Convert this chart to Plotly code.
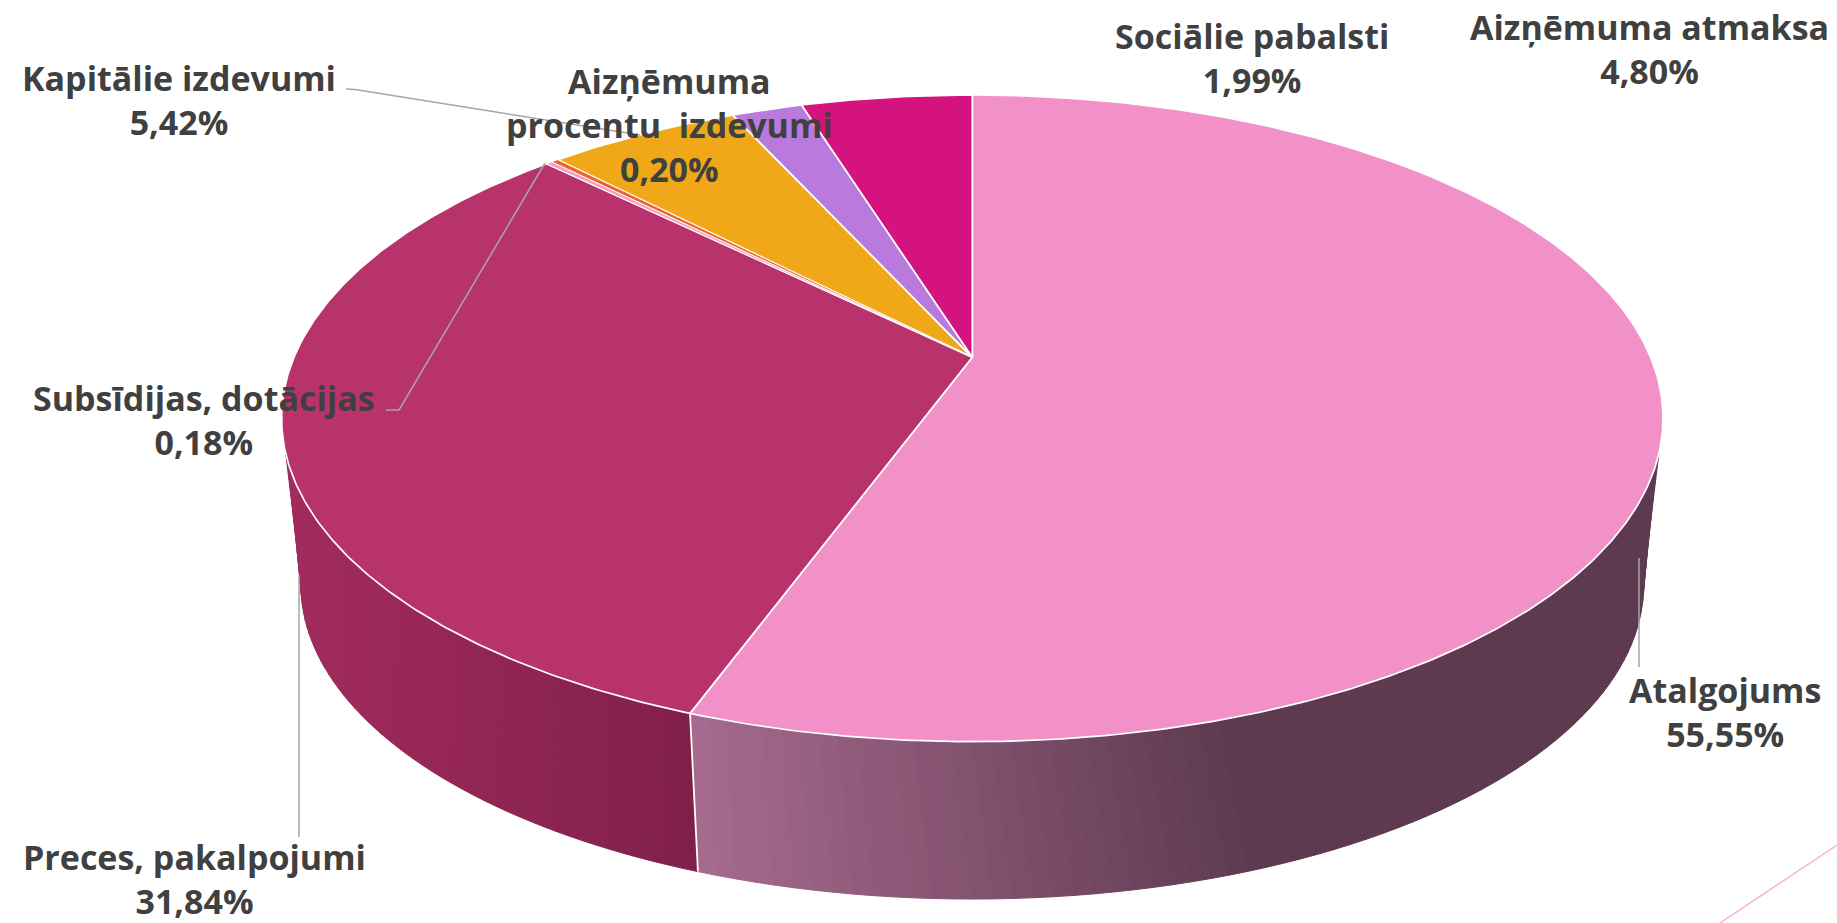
import numpy as np
import plotly.graph_objects as go

# ---- data ----
categories = ["Atalgojums", "Preces, pakalpojumi", "Subsīdijas, dotācijas",
              "Aizņēmuma<br>procentu  izdevumi", "Kapitālie izdevumi",
              "Sociālie pabalsti", "Aizņēmuma atmaksa"]
values = [55.55, 31.84, 0.18, 0.20, 5.42, 1.99, 4.80]
colors = ["#F291C8", "#B8336C", "#F4A0C0", "#EE6430", "#F0A818", "#B87ADC", "#D4137F"]

# ---- geometry of the perspective disc ----
W, H = 1837, 923
CX, TOP_Y, BOT_Y = 972.3, 357.3, 525.5
A, B, K, S = 678.3, 311.8, 0.1887, 0.972
FS = 34
TXT = "#404040"

def project(deg, scale=1.0, apex=TOP_Y):
    t = np.radians(deg)
    w = 1 + K * np.cos(t)
    return CX + scale * A * np.sin(t) / w, apex - scale * B * np.cos(t) / w

def lerp_color(x, xs, c0, c1):
    f = np.clip((x - xs[0]) / (xs[1] - xs[0]), 0, 1)
    a = [int(c0[i:i+2], 16) for i in (1, 3, 5)]
    b = [int(c1[i:i+2], 16) for i in (1, 3, 5)]
    return "rgb(%d,%d,%d)" % tuple(round(p + (q - p) * f) for p, q in zip(a, b))

total = sum(values)
edges = np.concatenate([[0], np.cumsum(values)]) / total * 360
fig = go.Figure()

def side(top0, top1, bot0, bot1, xs, c0, c1, n=70):
    tt = np.linspace(top0, top1, n + 1)
    bb = np.linspace(bot0, bot1, n + 1)
    for i in range(n):
        xa, ya = project(tt[i])
        xb, yb = project(tt[i + 1])
        xc, yc = project(bb[i + 1], S, BOT_Y)
        xd, yd = project(bb[i], S, BOT_Y)
        col = lerp_color((xa + xb + xc + xd) / 4, xs, c0, c1)
        fig.add_trace(go.Scatter(x=[xa, xb, xc, xd, xa], y=[ya, yb, yc, yd, ya], mode="lines",
                                 fill="toself", fillcolor=col, line=dict(color=col, width=1),
                                 hoverinfo="skip", showlegend=False))

# outer wall of the two front slices
side(107, edges[1], 100, edges[1], (698, 1240), "#A66A8E", "#5E3A50")
side(253, edges[1], 260, edges[1], (285, 690), "#A32B5E", "#80204A", n=50)

# white seam between the two walls
x0, y0 = project(edges[1])
x1, y1 = project(edges[1], S, BOT_Y)
fig.add_trace(go.Scatter(x=[x0, x1], y=[y0, y1], mode="lines", line=dict(color="white", width=1.8),
                         hoverinfo="skip", showlegend=False))

# top face: thin slices last so their hairline stripes stay visible
order = sorted(range(len(values)), key=lambda i: values[i] < 1)
for i in order:
    name, v, col = categories[i], values[i], colors[i]
    th = np.linspace(edges[i], edges[i + 1], max(3, int(v * 8)))
    px, py = project(th)
    fig.add_trace(go.Scatter(x=np.r_[CX, px, CX], y=np.r_[TOP_Y, py, TOP_Y], mode="lines",
                             fill="toself", fillcolor=col,
                             line=dict(color="white", width=1.7 if v >= 1 else 0.9),
                             name=name.replace("<br>", " "), text=f"{v:.2f}%", hoverinfo="name+text",
                             showlegend=False))

# leader lines
leaders = [
    ([1639, 1639], [558, 667]),
    ([299, 299], [575, 837]),
    ([386, 399, 545], [410, 410, 163]),
    ([346, 355, 640], [89, 89.5, 135]),
]
for lx, ly in leaders:
    fig.add_trace(go.Scatter(x=lx, y=ly, mode="lines", line=dict(color="#A6A6A6", width=1.5),
                             hoverinfo="skip", showlegend=False))

# decorative corner stroke
fig.add_shape(type="line", x0=1720, y0=923, x1=1837, y1=845, line=dict(color="#F7B4DC", width=1.5))

# labels: centre x, first-line baseline
label_pos = [(1724.5, 698), (194, 865), (204, 406), (669.6, 89), (179, 86), (1251.6, 44), (1649.5, 35)]
annots = []
for name, v, (lx, base) in zip(categories, values, label_pos):
    txt = f"<b>{name}<br>{v:.2f}%</b>".replace(".", ",")
    annots.append(dict(x=lx, y=base - FS * 0.98, xref="x", yref="y", text=txt, showarrow=False,
                       xanchor="center", yanchor="top", align="center",
                       font=dict(family="Open Sans", size=FS, color=TXT)))

fig.update_layout(width=W, height=H, margin=dict(l=0, r=0, t=0, b=0), paper_bgcolor="white",
                  plot_bgcolor="white", annotations=annots, showlegend=False,
                  xaxis=dict(range=[0, W], visible=False, fixedrange=True),
                  yaxis=dict(range=[H, 0], visible=False, fixedrange=True))
fig.write_html("out.html", config={"displayModeBar": False},
               post_script="document.body.style.margin='0';document.body.style.overflow='hidden';")
